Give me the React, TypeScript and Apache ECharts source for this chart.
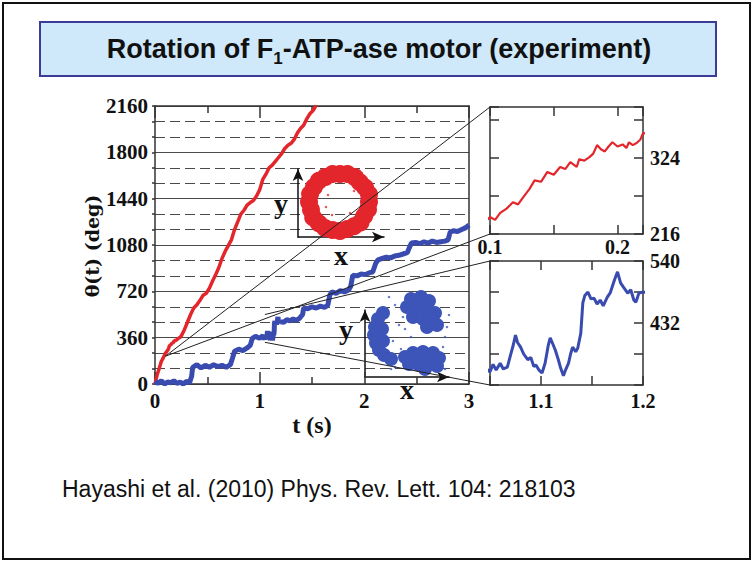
import React, { useEffect, useRef } from 'react';
import * as echarts from 'echarts';

// ---------- data ----------
// Main panel: time t (s) vs rotation angle theta (deg)
const redTrace: [number, number][] = [
  [0, 0], [0.02, 70], [0.04, 120], [0.06, 175], [0.08, 205],
  [0.1, 240], [0.104, 236], [0.108, 246], [0.113, 252], [0.118, 261], [0.122, 258],
  [0.126, 268], [0.131, 280], [0.135, 292], [0.14, 290], [0.145, 304], [0.15, 300],
  [0.155, 311], [0.159, 308], [0.163, 318], [0.168, 311], [0.17, 322], [0.174, 320],
  [0.178, 325], [0.181, 330], [0.184, 342], [0.187, 336], [0.19, 333], [0.193, 340],
  [0.196, 346], [0.2, 340], [0.204, 343], [0.207, 338], [0.209, 346], [0.212, 342],
  [0.215, 345], [0.218, 350], [0.22, 359], [0.23, 356], [0.24, 362], [0.25, 372],
  [0.28, 420], [0.31, 480], [0.34, 540], [0.37, 590], [0.4, 615], [0.43, 650],
  [0.46, 690], [0.49, 705], [0.52, 745], [0.55, 800], [0.58, 850], [0.61, 905],
  [0.64, 975], [0.67, 1030], [0.7, 1075], [0.73, 1120], [0.76, 1200], [0.79, 1260],
  [0.82, 1320], [0.85, 1350], [0.88, 1390], [0.91, 1410], [0.94, 1425], [0.97, 1460],
  [1.0, 1510], [1.03, 1590], [1.06, 1630], [1.09, 1680], [1.12, 1700], [1.15, 1730],
  [1.18, 1760], [1.21, 1790], [1.24, 1830], [1.27, 1855], [1.3, 1870], [1.33, 1900],
  [1.36, 1950], [1.39, 1985], [1.42, 2010], [1.45, 2060], [1.48, 2100], [1.51, 2125],
  [1.54, 2165],
];

const blueTrace: [number, number][] = [
  [0, 20], [0.03, 5], [0.06, 25], [0.09, 0], [0.12, 15], [0.15, 10], [0.18, 25],
  [0.21, 5], [0.24, 15], [0.27, 0], [0.3, 20], [0.33, 10], [0.35, 60], [0.36, 130],
  [0.4, 150], [0.44, 125], [0.48, 145], [0.52, 130], [0.56, 150], [0.6, 135],
  [0.64, 145], [0.68, 130], [0.72, 150], [0.74, 200], [0.76, 255], [0.8, 270],
  [0.84, 260], [0.88, 280], [0.91, 300], [0.93, 355], [0.96, 370], [1.0, 355],
  [1.03, 375], [1.05, 347], [1.053, 360], [1.056, 350], [1.06, 362], [1.063, 352],
  [1.067, 355], [1.07, 375], [1.073, 395], [1.075, 411], [1.077, 398], [1.08, 390],
  [1.083, 378], [1.087, 368], [1.09, 372], [1.093, 356], [1.095, 359], [1.098, 350],
  [1.101, 345], [1.104, 362], [1.107, 392], [1.109, 406], [1.111, 398], [1.114, 385],
  [1.117, 368], [1.119, 355], [1.122, 340], [1.124, 350], [1.127, 362], [1.129, 378],
  [1.131, 390], [1.134, 382], [1.136, 388], [1.139, 414], [1.141, 467], [1.143, 480],
  [1.146, 486], [1.149, 474], [1.152, 475], [1.155, 465], [1.158, 472], [1.161, 462],
  [1.165, 477], [1.168, 485], [1.172, 507], [1.175, 521], [1.178, 502], [1.181, 494],
  [1.185, 484], [1.188, 490], [1.191, 472], [1.193, 468], [1.196, 484], [1.2, 486],
  [1.23, 480], [1.26, 500], [1.29, 490], [1.32, 505], [1.35, 495], [1.38, 510], [1.41, 540],
  [1.42, 590], [1.46, 585], [1.5, 600], [1.54, 590], [1.58, 605], [1.62, 595],
  [1.65, 610], [1.67, 690], [1.69, 715], [1.73, 705], [1.77, 725], [1.81, 715],
  [1.85, 730], [1.87, 760], [1.89, 845], [1.93, 840], [1.97, 855], [2.01, 850],
  [2.05, 865], [2.08, 870], [2.11, 940], [2.13, 965], [2.17, 975], [2.21, 985],
  [2.25, 980], [2.29, 995], [2.33, 1000], [2.37, 1010], [2.41, 1020], [2.43, 1060],
  [2.45, 1095], [2.49, 1100], [2.53, 1090], [2.57, 1105], [2.61, 1095], [2.65, 1110],
  [2.69, 1100], [2.73, 1105], [2.77, 1110], [2.8, 1120], [2.82, 1180], [2.85, 1190],
  [2.89, 1185], [2.93, 1200], [2.97, 1215], [3.0, 1235],
];

// Main axes
const mainTimeRange = [0, 3];
const mainThetaRange = [0, 2160];
const mainYName = 'θ(t) (deg)';
const mainXName = 't (s)';
// Zoomed windows shown in the right-hand panels
const upperT = [0.1, 0.22];
const upperTheta = [216, 396];
const upperTLabels = [0.1, 0.2];
const upperThetaLabels = [216, 324];
const lowerT = [1.05, 1.2];
const lowerTheta = [324, 540];
const lowerTLabels = [1.1, 1.2];
const lowerThetaLabels = [432, 540];

// x-y position clouds (inset scatter, arbitrary units)
const ringPoints: [number, number][] = [
  [71, 35], [71, 42.8], [67.1, 49.5], [61.8, 54.8], [56.5, 60.1], [49.5, 63], [42, 63],
  [34.5, 63], [27.5, 60.1], [20.8, 56.2], [16, 50], [12.1, 43], [11, 35], [13, 27.2],
  [15.2, 19.5], [20.8, 13.8], [27, 9], [34.5, 7], [42, 6], [49.2, 8], [56, 10.8],
  [62.5, 14.5], [66.2, 21], [70, 27.5],
];
const ringSpeckle: [number, number][] = [
  [30, 42], [52, 24], [34, 22], [56, 46], [28, 30], [40, 70], [76, 38], [8, 40], [24, 4], [64, 64],
];
const blobPoints: [number, number][] = [
  // left crescent
  [18, 64], [13, 58], [10, 50], [9, 42], [11, 34], [14, 27], [19, 22], [26, 18], [17, 48], [18, 36],
  // upper-right cluster
  [46, 78], [56, 80], [64, 76], [42, 70], [52, 70], [62, 68], [70, 64], [48, 60], [58, 58],
  [68, 56], [72, 52], [62, 50],
  // bottom cluster
  [40, 20], [48, 24], [58, 25], [68, 24], [74, 19], [44, 13], [54, 12], [64, 13], [72, 11],
  [60, 8], [50, 18], [64, 18],
];
const blobSpeckle: [number, number][] = [
  [30, 72], [38, 60], [28, 36], [36, 28], [80, 40], [82, 50], [78, 30], [46, 40], [30, 10],
  [84, 62], [24, 80], [40, 48], [34, 52], [80, 8], [26, 8],
];

// ---------- styling ----------
const SERIF = 'Liberation Serif';
const SANS = 'Liberation Sans';
const RED = '#e3262c';
const BLUE = '#3a4bb0';
const AXIS = { color: '#333', width: 1.5 };
const lbl = (size: number) => ({ fontFamily: SERIF, fontWeight: 'bold' as const, fontSize: size, color: '#111' });
const near = (v: number, list: number[]) => list.some((x) => Math.abs(x - v) < 1e-6);

function insetX(grid: number, range: number[], labels: number[] | null, pos: 'bottom' | 'top', margin: number) {
  return {
    gridIndex: grid, type: 'value', min: range[0], max: range[1], interval: 0.05, position: pos,
    axisLine: { show: true, onZero: false, lineStyle: AXIS },
    axisTick: { show: true, inside: true, length: 9, lineStyle: AXIS },
    axisLabel: labels
      ? { show: true, margin, ...lbl(20), formatter: (v: number) => (near(v, labels) ? String(Math.round(v * 100) / 100) : '') }
      : { show: false },
    splitLine: { show: false },
  };
}
function insetY(grid: number, range: number[], labels: number[] | null, pos: 'left' | 'right') {
  return {
    gridIndex: grid, type: 'value', min: range[0], max: range[1], interval: 54, position: pos,
    axisLine: { show: true, onZero: false, lineStyle: AXIS },
    axisTick: { show: true, inside: true, length: 9, lineStyle: AXIS },
    axisLabel: labels
      ? { show: true, margin: 7, ...lbl(20), formatter: (v: number) => (near(v, labels) ? String(v) : '') }
      : { show: false },
    splitLine: { show: false },
  };
}
function arrowAxis(grid: number, max: number, name: string, gap: number, vAlign?: string) {
  return {
    gridIndex: grid, type: 'value', min: 0, max,
    axisLine: { show: true, onZero: false, symbol: ['none', 'arrow'], symbolSize: [8, 12], lineStyle: { color: '#111', width: 1.5 } },
    axisTick: { show: false }, axisLabel: { show: false }, splitLine: { show: false },
    name, nameLocation: 'middle', nameGap: gap, nameRotate: 0, nameMoveOverlap: false,
    nameTextStyle: { fontFamily: SERIF, fontWeight: 'bold', fontSize: 28, color: '#111', ...(vAlign ? { verticalAlign: vAlign } : {}) },
  };
}

function buildOption(): any {
  return {
    animation: false,
    backgroundColor: '#fff',
    grid: [
      { left: 155, top: 106, width: 314, height: 278 },  // main
      { left: 490, top: 107, width: 153, height: 127 },  // upper zoom
      { left: 490, top: 261, width: 153, height: 124 },  // lower zoom
      { left: 298, top: 169, width: 86, height: 68 },    // ring inset
      { left: 365, top: 310, width: 84, height: 67 },    // three-state inset
    ],
    xAxis: [
      {
        gridIndex: 0, type: 'value', min: mainTimeRange[0], max: mainTimeRange[1], interval: 1, position: 'bottom',
        axisLine: { show: true, onZero: false, lineStyle: AXIS },
        axisTick: { show: true, inside: true, length: 12, lineStyle: AXIS },
        minorTick: { show: true, splitNumber: 2, length: 7, lineStyle: AXIS },
        axisLabel: { show: true, margin: 6, ...lbl(21) },
        splitLine: { show: false },
        name: mainXName, nameLocation: 'middle', nameGap: 29, nameMoveOverlap: false, nameTextStyle: lbl(24),
      },
      {
        gridIndex: 0, type: 'value', min: mainTimeRange[0], max: mainTimeRange[1], interval: 1, position: 'top',
        axisLine: { show: true, onZero: false, lineStyle: AXIS },
        axisTick: { show: true, inside: true, length: 12, lineStyle: AXIS },
        minorTick: { show: true, splitNumber: 2, length: 7, lineStyle: AXIS },
        axisLabel: { show: false }, splitLine: { show: false },
      },
      insetX(1, upperT, upperTLabels, 'bottom', 3),
      insetX(1, upperT, null, 'top', 3),
      insetX(2, lowerT, lowerTLabels, 'bottom', 6),
      insetX(2, lowerT, null, 'top', 6),
      arrowAxis(3, 86, 'x', 4),
      arrowAxis(4, 84, 'x', -2),
    ],
    yAxis: [
      {
        gridIndex: 0, type: 'value', min: mainThetaRange[0], max: mainThetaRange[1], interval: 360, position: 'left',
        axisLine: { show: true, onZero: false, lineStyle: AXIS },
        axisTick: { show: true, inside: false, length: 3, lineStyle: AXIS },
        minorTick: { show: true, splitNumber: 3, length: 3, lineStyle: AXIS },
        axisLabel: { show: true, margin: 7, ...lbl(21), formatter: (v: number) => String(v) },
        splitLine: { show: true, lineStyle: { color: '#4a4a4a', width: 1.2 } },
        minorSplitLine: { show: true, lineStyle: { color: '#4a4a4a', width: 1.2, type: [10, 5] } },
      },
      {
        gridIndex: 0, type: 'value', min: mainThetaRange[0], max: mainThetaRange[1], interval: 360, position: 'right',
        axisLine: { show: true, onZero: false, lineStyle: AXIS },
        axisTick: { show: false }, axisLabel: { show: false }, splitLine: { show: false },
      },
      insetY(1, upperTheta, null, 'left'),
      insetY(1, upperTheta, upperThetaLabels, 'right'),
      insetY(2, lowerTheta, null, 'left'),
      insetY(2, lowerTheta, lowerThetaLabels, 'right'),
      arrowAxis(3, 68, 'y', 10),
      arrowAxis(4, 67, 'y', 12, 'bottom'),
    ],
    series: [
      { type: 'line', xAxisIndex: 0, yAxisIndex: 0, data: redTrace, showSymbol: false, clip: true,
        lineStyle: { color: RED, width: 3.5 }, itemStyle: { color: RED }, z: 3 },
      { type: 'line', xAxisIndex: 0, yAxisIndex: 0, data: blueTrace, showSymbol: false, clip: true,
        lineStyle: { color: BLUE, width: 5 }, itemStyle: { color: BLUE }, z: 3 },
      { type: 'line', xAxisIndex: 2, yAxisIndex: 2, data: redTrace, showSymbol: false, clip: true,
        lineStyle: { color: RED, width: 2.2 }, itemStyle: { color: RED }, z: 3 },
      { type: 'line', xAxisIndex: 4, yAxisIndex: 4, data: blueTrace, showSymbol: false, clip: true,
        lineStyle: { color: BLUE, width: 3 }, itemStyle: { color: BLUE }, z: 3 },
      { type: 'scatter', xAxisIndex: 6, yAxisIndex: 6, data: ringPoints, symbolSize: 18, clip: false,
        itemStyle: { color: RED, opacity: 1 }, z: 4 },
      { type: 'scatter', xAxisIndex: 6, yAxisIndex: 6, data: ringSpeckle, symbolSize: 2.5, clip: false,
        itemStyle: { color: RED }, z: 4 },
      { type: 'scatter', xAxisIndex: 7, yAxisIndex: 7, data: blobPoints, symbolSize: 14, clip: false,
        itemStyle: { color: '#3d55b8', opacity: 1 }, z: 4 },
      { type: 'scatter', xAxisIndex: 7, yAxisIndex: 7, data: blobSpeckle, symbolSize: 2.5, clip: false,
        itemStyle: { color: '#3d55b8' }, z: 4 },
    ],
    graphic: [
      { id: 'frame', type: 'rect', silent: true, z: -10, shape: { x: 3, y: 3, width: 747, height: 556 },
        style: { fill: 'none', stroke: '#111', lineWidth: 2 } },
      { id: 'titleBox', type: 'rect', silent: true, z: -5, shape: { x: 40, y: 22, width: 676, height: 54 },
        style: { fill: '#cfe9fb', stroke: '#3b3b98', lineWidth: 2 } },
      { id: 'titleText', type: 'text', silent: true, x: 379, y: 58, z: 10,
        style: {
          text: '{a|Rotation of F}{s|1}{a|-ATP-ase motor (experiment)}',
          align: 'center', verticalAlign: 'middle', textAlign: 'center', textVerticalAlign: 'middle',
          fill: '#111',
          rich: {
            a: { fontFamily: SANS, fontWeight: 'bold', fontSize: 27, lineHeight: 27, verticalAlign: 'top', fill: '#111', color: '#111' },
            s: { fontFamily: SANS, fontWeight: 'bold', fontSize: 17, lineHeight: 45, verticalAlign: 'middle', fill: '#111', color: '#111' },
          },
        } },
      { id: 'yName', type: 'text', silent: true, x: 92, y: 246, rotation: Math.PI / 2, z: 10,
        style: {
          text: mainYName, fontFamily: 'DejaVu Serif', fontWeight: 'bold', fontSize: 19, fill: '#111',
          align: 'center', verticalAlign: 'middle', textAlign: 'center', textVerticalAlign: 'middle',
        } },
      { id: 'cite', type: 'text', silent: true, x: 62, y: 489, z: 10,
        style: {
          text: 'Hayashi et al. (2010) Phys. Rev. Lett. 104: 218103',
          fontFamily: SANS, fontSize: 23, fill: '#111',
          align: 'left', verticalAlign: 'middle', textAlign: 'left', textVerticalAlign: 'middle',
        } },
    ],
  };
}

export default function App() {
  const ref = useRef<HTMLDivElement>(null);
  useEffect(() => {
    if (!ref.current) return;
    const chart = echarts.init(ref.current, null, { renderer: 'svg' });
    chart.setOption(buildOption());
    const px = (xi: number, yi: number, v: number[]) =>
      chart.convertToPixel({ xAxisIndex: xi, yAxisIndex: yi } as any, v) as number[];
    const a = px(0, 0, [upperT[0], upperTheta[0]]);
    const b = px(2, 2, [upperT[0], upperTheta[1]]);
    const c = px(2, 2, [upperT[0], upperTheta[0]]);
    const d = px(0, 0, [lowerT[0], lowerTheta[1]]);
    const e = px(0, 0, [lowerT[0], lowerTheta[0]]);
    const f = px(4, 4, [lowerT[0], lowerTheta[1]]);
    const g = px(4, 4, [lowerT[0], lowerTheta[0]]);
    const seg = (id: string, p: number[], q: number[]) => ({
      id, type: 'line', silent: true, z: 50,
      shape: { x1: p[0], y1: p[1], x2: q[0], y2: q[1] },
      style: { stroke: '#222', lineWidth: 1 },
    });
    chart.setOption({ graphic: [seg('c1', a, b), seg('c2', a, c), seg('c3', d, f), seg('c4', e, g)] });
    return () => chart.dispose();
  }, []);
  return <div ref={ref} style={{ position: 'absolute', left: 0, top: 0, width: 754, height: 564 }} />;
}
